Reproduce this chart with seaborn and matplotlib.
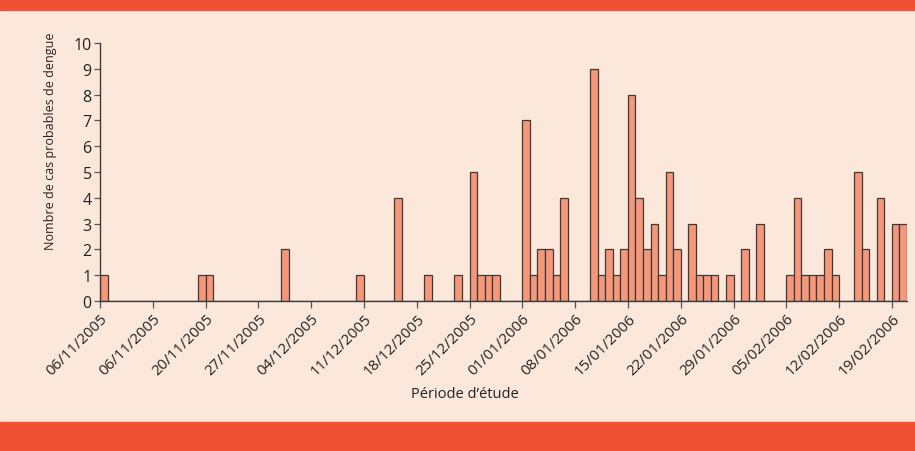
import matplotlib
matplotlib.use("Agg")
import matplotlib.pyplot as plt
import matplotlib.patches as mpatches
import seaborn as sns
import pandas as pd

# Nombre de cas probables de dengue par jour, du 06/11/2005 au 21/02/2006
jours = pd.date_range("2005-11-06", periods=107, freq="D")
cas = [
    1, 0, 0, 0, 0, 0, 0, 0, 0, 0, 0, 0, 0, 1, 1, 0, 0, 0, 0, 0,
    0, 0, 0, 0, 2, 0, 0, 0, 0, 0, 0, 0, 0, 0, 1, 0, 0, 0, 0, 4,
    0, 0, 0, 1, 0, 0, 0, 1, 0, 5, 1, 1, 1, 0, 0, 0, 7, 1, 2, 2,
    1, 4, 0, 0, 0, 9, 1, 2, 1, 2, 8, 4, 2, 3, 1, 5, 2, 0, 3, 1,
    1, 1, 0, 1, 0, 2, 0, 3, 0, 0, 0, 1, 4, 1, 1, 1, 2, 1, 0, 0,
    5, 2, 0, 4, 0, 3, 3,
]
etiquettes = ["06/11/2005", "06/11/2005", "20/11/2005", "27/11/2005", "04/12/2005",
              "11/12/2005", "18/12/2005", "25/12/2005", "01/01/2006", "08/01/2006",
              "15/01/2006", "22/01/2006", "29/01/2006", "05/02/2006", "12/02/2006",
              "19/02/2006"]

fond = "#FCE7DB"
orange = "#F05133"
barre = "#F7977A"
trait = "#3A3A3A"

df = pd.DataFrame({"jour": jours.strftime("%d/%m/%Y"), "cas": cas})

sns.set_style("white")
plt.rcParams["font.family"] = ["Open Sans", "DejaVu Sans"]

fig = plt.figure(figsize=(9.15, 4.52), dpi=100, facecolor=fond)
ax = fig.add_axes([100 / 915, 1 - 302 / 452, 807 / 915, 258 / 452])
ax.set_facecolor(fond)

sns.barplot(data=df, x="jour", y="cas", color=barre, width=1.0,
            edgecolor=trait, linewidth=0.9, saturation=1, ax=ax)

ax.set_xlim(-0.5, len(cas) - 0.5)
ax.set_ylim(0, 10)
ax.set_yticks(range(0, 11))
ax.set_xticks([i * 7 - 0.5 for i in range(len(etiquettes))])
ax.set_xticklabels(etiquettes, rotation=45, ha="right", rotation_mode="anchor",
                   fontsize=10.8, color="#222222")
ax.tick_params(axis="y", labelsize=11.5, colors="#222222", length=4, width=0.9,
               left=True, color="#555555", pad=2)
ax.tick_params(axis="x", length=5, width=0.9, bottom=True, color="#555555", pad=2)
ax.set_xlabel("")
ax.set_ylabel("")

for s in ["top", "right"]:
    ax.spines[s].set_visible(False)
for s in ["left", "bottom"]:
    ax.spines[s].set_color(trait)
    ax.spines[s].set_linewidth(1.0)

fig.text(465 / 915, 1 - 395 / 452, "Période d’étude", ha="center", va="center",
         fontsize=10.5, color="#222222")
fig.text(51 / 915, 1 - 141 / 452, "Nombre de cas probables de dengue", ha="center",
         va="center", rotation=90, fontsize=9, color="#222222")

# bandeaux orange en haut et en bas
fig.patches.append(mpatches.Rectangle((0, 1 - 11 / 452), 1, 11 / 452,
                                      transform=fig.transFigure, color=orange, zorder=-1))
fig.patches.append(mpatches.Rectangle((0, 0), 1, 29 / 452,
                                      transform=fig.transFigure, color=orange, zorder=-1))

fig.savefig("out.png", dpi=100, facecolor=fond)
